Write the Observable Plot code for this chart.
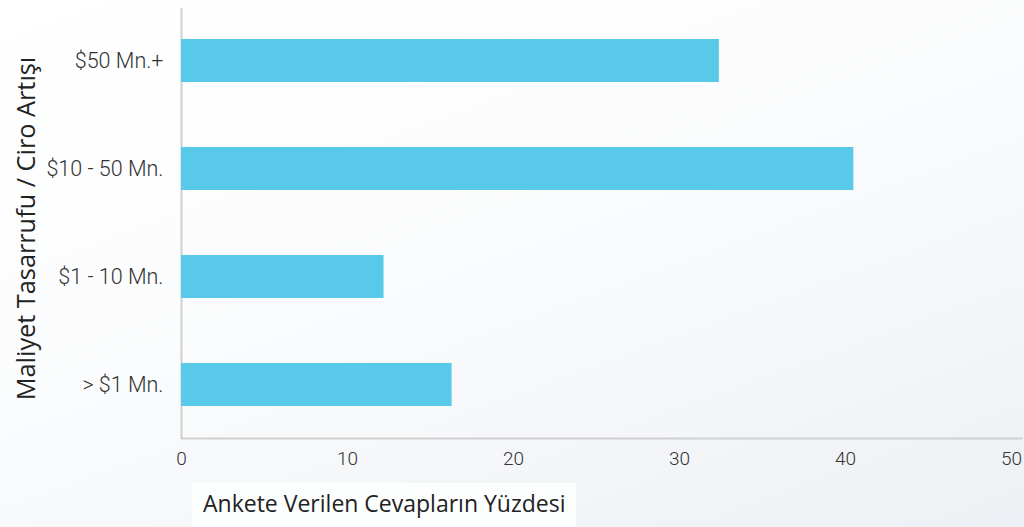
<!DOCTYPE html>
<html>
<head>
<meta charset="utf-8">
<script src="https://cdn.jsdelivr.net/npm/d3@7"></script>
<script src="https://cdn.jsdelivr.net/npm/@observablehq/plot@0.6"></script>
<style>
  html, body { margin: 0; padding: 0; }
  body {
    width: 1024px; height: 527px; overflow: hidden; position: relative;
    background: linear-gradient(160deg, #ffffff 0%, #fbfcfd 45%, #edf0f4 100%);
  }
  #chart svg { background: transparent; display: block; }
  #xlabel {
    position: absolute; left: 192px; top: 483px; width: 384px; height: 44px;
    background: #fdfefe; box-sizing: border-box; padding-left: 11px;
    font-family: "Open Sans", sans-serif; font-size: 23px; color: #222;
    line-height: 40px; white-space: nowrap;
  }
</style>
</head>
<body>
<div id="chart"></div>
<div id="xlabel"></div>
<script>
const categories = ["$50 Mn.+", "$10 - 50 Mn.", "$1 - 10 Mn.", "> $1 Mn."];
const values = [32.4, 40.5, 12.2, 16.3];
const xTicks = [0, 10, 20, 30, 40, 50];
const yTitle = "Maliyet Tasarrufu / Ciro Artışı";
const xTitle = "Ankete Verilen Cevapların Yüzdesi";

const data = categories.map((c, i) => ({category: c, value: values[i]}));

const chart = Plot.plot({
  width: 1024,
  height: 527,
  marginLeft: 181,
  marginRight: 3,
  marginTop: 8,
  marginBottom: 89,
  style: {background: "transparent", fontFamily: "Roboto, 'Liberation Sans', sans-serif", color: "#333"},
  x: {domain: [0, 50.6], ticks: xTicks, label: null},
  y: {domain: categories, paddingInner: 0.6, paddingOuter: 0.3, insetTop: -2, insetBottom: -2, label: null},
  marks: [
    Plot.frame({anchor: "bottom", stroke: "#d0d0d0", strokeWidth: 2}),
    Plot.ruleX([0], {stroke: "#d0d0d0", strokeWidth: 2}),
    Plot.barX(data, {x: "value", y: "category", fill: "#58c9e8"}),
    Plot.axisX({ticks: xTicks, tickSize: 0, tickPadding: 13, fontSize: 19, fontWeight: 300, label: null}),
    Plot.axisY({tickSize: 0, tickPadding: 18, fontSize: 21.5, fontWeight: 300, label: null}),
    Plot.text([yTitle], {frameAnchor: "left", textAnchor: "middle", rotate: -90, dx: -155, dy: 5, fontSize: 25.3, fill: "#222", fontFamily: "'Open Sans', sans-serif"})
  ]
});
document.getElementById("chart").appendChild(chart);
document.getElementById("xlabel").textContent = xTitle;
</script>
</body>
</html>
